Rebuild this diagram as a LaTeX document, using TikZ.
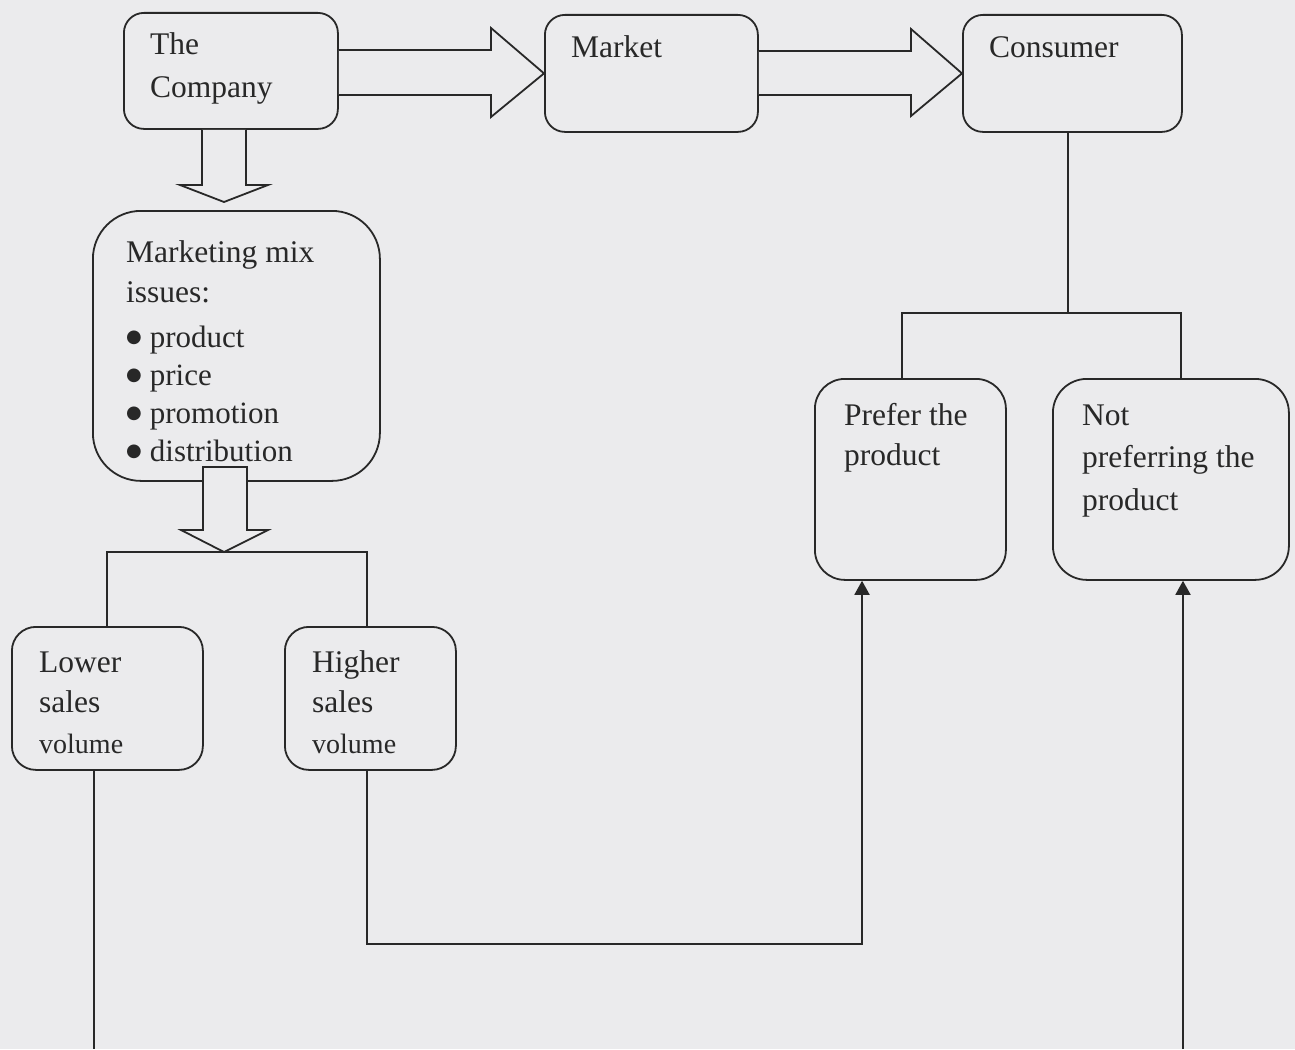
\documentclass[tikz,border=0pt]{standalone}
\usepackage{fontspec}
\setmainfont{Liberation Serif}
\newfontfamily\symfont{DejaVu Sans}
\usetikzlibrary{arrows.meta,calc}
\definecolor{bg}{RGB}{235,235,237}
\definecolor{ink}{RGB}{40,40,40}
\newcommand\txtlines[1]{\begin{tabular}[t]{@{}l@{}}#1\end{tabular}}
\newcommand\bulletlines[1]{\begin{tabular}[t]{@{}l@{\hspace{8pt}}l@{}}#1\end{tabular}}
\newcommand\bigbul{\raisebox{5pt}{\symfont\fontsize{18}{18}\selectfont ●}}
\begin{document}
\begin{tikzpicture}[x=1pt,y=-1pt,
  box/.style={draw=ink, line width=1.8pt, rounded corners=#1, inner sep=0pt, anchor=north west},
  box/.default=20pt,
  txt/.style={anchor=base west, inner sep=0pt, text=ink},
  line/.style={draw=ink, line width=1.8pt},
  blk/.style={draw=ink, fill=bg, line width=1.8pt, line join=miter},
  arr/.style={line, -{Triangle[width=15pt,length=14pt]}}]
\fill[bg] (0,0) rectangle (1295,1049);
\useasboundingbox (0,0) rectangle (1295,1049);

% boxes
\node[box, minimum width=214pt, minimum height=116pt] (company) at (123,12) {};
\node[box, minimum width=213pt, minimum height=117pt] (market) at (544,14) {};
\node[box, minimum width=219pt, minimum height=117pt] (consumer) at (962,14) {};
\node[box=48pt, minimum width=287pt, minimum height=270pt] (mix) at (92,210) {};
\node[box=30pt, minimum width=191pt, minimum height=201pt] (prefer) at (814,378) {};
\node[box=34pt, minimum width=236pt, minimum height=201pt] (notp) at (1052,378) {};
\node[box=24pt, minimum width=191pt, minimum height=143pt] (lower) at (11,626) {};
\node[box=24pt, minimum width=171pt, minimum height=143pt] (higher) at (284,626) {};

% texts
\node[txt, font=\fontsize{31.5}{43}\selectfont] (tcompany) at (150,55) {\txtlines{The\\Company}};
\node[txt, font=\fontsize{31.5}{43}\selectfont] (tmarket) at (571,58) {Market};
\node[txt, font=\fontsize{31.5}{43}\selectfont] (tconsumer) at (989,58) {Consumer};
\node[txt, font=\fontsize{31.5}{40}\selectfont] (tmix) at (126,262) {\txtlines{Marketing mix\\issues:}};
\node[txt, font=\fontsize{31}{38}\selectfont] (tlist) at (126,347) {\bulletlines{\bigbul&product\\\bigbul&price\\\bigbul&promotion\\\bigbul&distribution}};
\node[txt, font=\fontsize{31.5}{40}\selectfont] (tprefer) at (844,425) {\txtlines{Prefer the\\product}};
\node[txt, font=\fontsize{31.5}{42.5}\selectfont] (tnotp) at (1082,425) {\txtlines{Not\\preferring the\\product}};
\node[txt, font=\fontsize{31.5}{40.5}\selectfont] (tlower) at (39,672) {\txtlines{Lower\\sales\\{\fontsize{28}{40}\selectfont volume}}};
\node[txt, font=\fontsize{31.5}{40.5}\selectfont] (thigher) at (312,672) {\txtlines{Higher\\sales\\{\fontsize{28}{40}\selectfont volume}}};

% block arrows
\draw[blk] (company.east |- 0,50) -- (491,50) -- (491,28) -- (market.west) -- (491,117) -- (491,95) -- (company.east |- 0,95);
\draw[blk] (market.east |- 0,51) -- (911,51) -- (911,29) -- (consumer.west) -- (911,116) -- (911,95) -- (market.east |- 0,95);
\coordinate (ctip) at (224,202);
\draw[blk] (company.south -| 202,0) -- (202,185) -- (180,185) -- (ctip) -- (268,185) -- (246,185) -- (company.south -| 246,0);
\coordinate (mtip) at (224,552);
\draw[blk] (203,467) -- (203,530) -- (181,530) -- (mtip) -- (268,530) -- (247,530) -- (247,467) -- cycle;

% brackets
\draw[line] (lower.north -| 107,0) -- (107,552) -- (367,552) -- (higher.north -| 367,0);
\draw[line] (consumer.south -| 1068,0) -- (1068,313);
\draw[line] (prefer.north -| 902,0) -- (902,313) -- (1181,313) -- (notp.north -| 1181,0);

% outputs
\coordinate (lowend) at (94,1049);
\draw[line] (lower.south -| lowend) -- (lowend);
\draw[arr] (higher.south -| 367,0) -- (367,944) -- (862,944) -- (prefer.south -| 862,0);
\coordinate (notstart) at (1183,1049);
\draw[arr] (notstart) -- (notp.south -| notstart);
\end{tikzpicture}
\end{document}
